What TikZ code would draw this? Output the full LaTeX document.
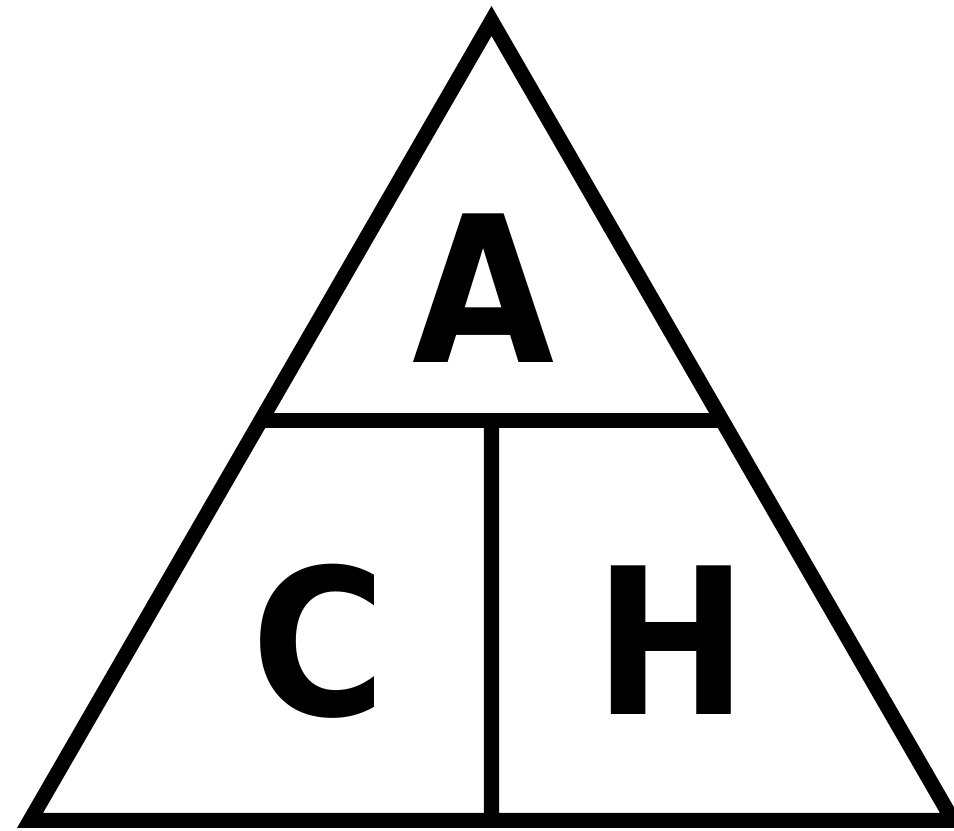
\documentclass[tikz,border=0pt]{standalone}
\usepackage{fontspec}
\setmainfont[FakeStretch=0.9]{DejaVu Sans}
\usetikzlibrary{calc}
\begin{document}
\begin{tikzpicture}[x=0.01cm,y=-0.01cm]
	% Styles
	\tikzstyle{trait}=[line width=0.15cm,line join=miter]
	\tikzstyle{lettre}=[font=\bfseries\fontsize{58}{60}\selectfont,inner sep=0pt]
	% Cadre
	\useasboundingbox (0,0) rectangle (954,831);
	% Sommets
	\coordinate (S) at (491.5,21);
	\coordinate (G) at (30,820.5);
	\coordinate (D) at (953,820.5);
	\coordinate (BG) at ($(G)!0.5!(S)$);
	\coordinate (BD) at ($(D)!0.5!(S)$);
	\coordinate (M) at ($(G)!0.5!(D)$);
	\coordinate (MH) at ($(BG)!0.5!(BD)$);
	% Lettres
	\node[lettre] (A) at (484,288) {A};
	\node[lettre] (C) at (319,641) {C};
	\node[lettre] (H) at (671,640) {H};
	% Traits
	\draw[trait] (S) -- (G) -- (D) -- cycle;
	\draw[trait] (BG) -- (BD);
	\draw[trait] (M) -- (MH);
\end{tikzpicture}
\end{document}
